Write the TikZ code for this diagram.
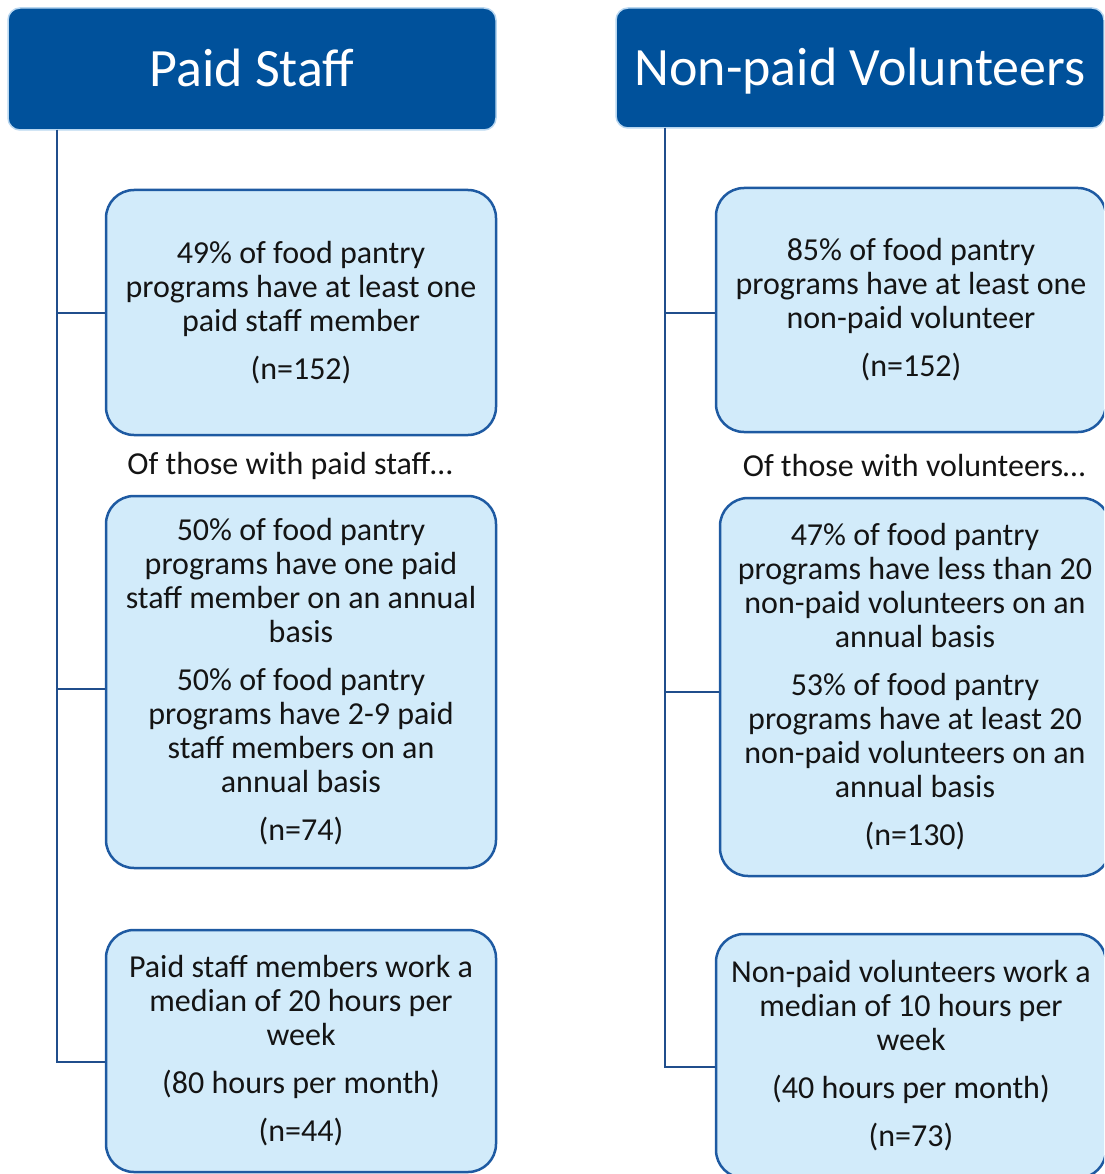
\documentclass[tikz,border=0pt]{standalone}
\usepackage{fontspec}
\setmainfont{Carlito}
\usetikzlibrary{positioning}

\definecolor{headblue}{RGB}{0,81,155}
\definecolor{headedge}{RGB}{185,215,240}
\definecolor{boxfill}{RGB}{210,235,250}
\definecolor{boxedge}{RGB}{30,90,162}
\definecolor{linkblue}{RGB}{32,78,140}
\definecolor{bodytext}{RGB}{20,20,20}

\begin{document}
\begin{tikzpicture}[x=1pt, y=-1pt,
    header/.style={rounded corners=12pt, fill=headblue, draw=headedge, line width=1.5pt,
        minimum width=488pt, text=white, font=\fontsize{54}{60}\selectfont, inner sep=0pt,
        text height=35pt, text depth=0pt},
    infobox/.style={rounded corners=28pt, fill=boxfill, draw=boxedge, line width=2.5pt,
        minimum width=390pt, align=center, text=bodytext, inner sep=0pt,
        font=\fontsize{32}{34}\selectfont},
    caption/.style={text=bodytext, font=\fontsize{32}{34}\selectfont, inner sep=0pt},
    link/.style={draw=linkblue, line width=2pt}]

    \clip (0,0) rectangle (1104,1174);
    \useasboundingbox (0,0) rectangle (1104,1174);

    % --- Headers ---
    \node[header, minimum height=122pt] (paidhead) at (252,69) {Paid Staff};
    \node[header, minimum height=120pt] (volhead) at (860,68) {Non-paid Volunteers};

    % --- Paid staff column ---
    \node[infobox, minimum height=245pt] (paid1) at (301,312.5)
        {49\% of food pantry\\ programs have at least one\\ paid staff member\\[14pt] (n=152)};
    \node[caption] (paidcap) at (290,466) {Of those with paid staff…};
    \node[infobox, minimum height=372pt] (paid2) at (301,682)
        {50\% of food pantry\\ programs have one paid\\ staff member on an annual\\ basis\\[14pt]
         50\% of food pantry\\ programs have 2-9 paid\\ staff members on an\\ annual basis\\[14pt] (n=74)};
    \node[infobox, minimum height=242pt] (paid3) at (301,1051)
        {Paid staff members work a\\ median of 20 hours per\\ week\\[14pt] (80 hours per month)\\[14pt] (n=44)};

    % --- Volunteer column ---
    \node[infobox, minimum height=244pt] (vol1) at (911,310)
        {85\% of food pantry\\ programs have at least one\\ non-paid volunteer\\[14pt] (n=152)};
    \node[caption] (volcap) at (914,466) {Of those with volunteers…};
    \node[infobox, minimum height=378pt] (vol2) at (915,687)
        {47\% of food pantry\\ programs have less than 20\\ non-paid volunteers on an\\ annual basis\\[14pt]
         53\% of food pantry\\ programs have at least 20\\ non-paid volunteers on an\\ annual basis\\[14pt] (n=130)};
    \node[infobox, minimum height=244pt] (vol3) at (911,1056)
        {Non-paid volunteers work a\\ median of 10 hours per\\ week\\[14pt] (40 hours per month)\\[14pt] (n=73)};

    % --- Connectors ---
    \coordinate (paidspine) at (57,130);
    \coordinate (volspine) at (665,128);
    \draw[link] (paidspine) |- (paid1.west);
    \draw[link] (paidspine) |- ([yshift=-7pt]paid2.west);
    \draw[link] (paidspine) |- ([yshift=-11pt]paid3.west);
    \draw[link] (volspine) |- ([yshift=-3pt]vol1.west);
    \draw[link] (volspine) |- ([yshift=-5pt]vol2.west);
    \draw[link] (volspine) |- ([yshift=-11pt]vol3.west);

\end{tikzpicture}
\end{document}
